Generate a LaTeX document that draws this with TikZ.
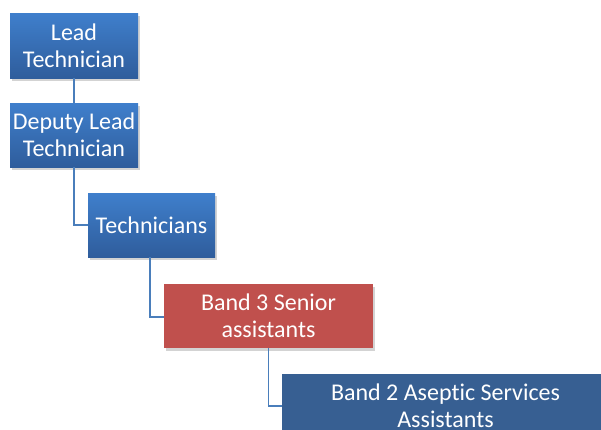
\documentclass[tikz,border=0pt]{standalone}
\usepackage{fontspec}
\setmainfont{Carlito}[Ligatures={NoCommon}]
\usetikzlibrary{shadows}
\definecolor{btop}{HTML}{3F7FCC}
\definecolor{bbot}{HTML}{2F5D9C}
\definecolor{redbox}{HTML}{C0504D}
\definecolor{darkblue}{HTML}{375F92}
\definecolor{conn}{HTML}{4A7EBB}
\tikzset{
  orgbox/.style={rectangle, inner sep=0pt, align=center, text=white,
    font=\fontsize{24}{27}\selectfont,
    drop shadow={opacity=0.35, shadow xshift=1.5pt, shadow yshift=-2.5pt}},
  bluebox/.style={orgbox, top color=btop, bottom color=bbot},
  redb/.style={orgbox, fill=redbox},
  darkb/.style={orgbox, fill=darkblue},
  link/.style={draw=conn, line width=1.8pt}
}
\begin{document}
\begin{tikzpicture}[x=1pt,y=-1pt]
\useasboundingbox (0,0) rectangle (601,429);
\begin{scope}
\clip (0,0) rectangle (601,429);
\node[bluebox, minimum width=128pt, minimum height=65pt] (lead) at (74,45.5) {Lead\\Technician};
\node[bluebox, minimum width=128pt, minimum height=64pt] (deputy) at (74,135) {Deputy Lead\\Technician};
\node[bluebox, minimum width=127pt, minimum height=64pt] (tech) at (151.5,225) {Technicians};
\node[redb, minimum width=209pt, minimum height=64pt] (band3) at (268.5,316) {Band 3 Senior\\assistants};
\node[darkb, minimum width=327pt, minimum height=64pt] (band2) at (445.5,406) {Band 2 Aseptic Services\\Assistants};
\draw[link] (lead.south) -- (deputy.north);
\draw[link] (deputy.south) |- (tech.west);
\draw[link] ([xshift=-1.5pt]tech.south) |- ([yshift=-1pt]band3.west);
\draw[link] (band3.south) |- (band2.west);
\end{scope}
\end{tikzpicture}
\end{document}
